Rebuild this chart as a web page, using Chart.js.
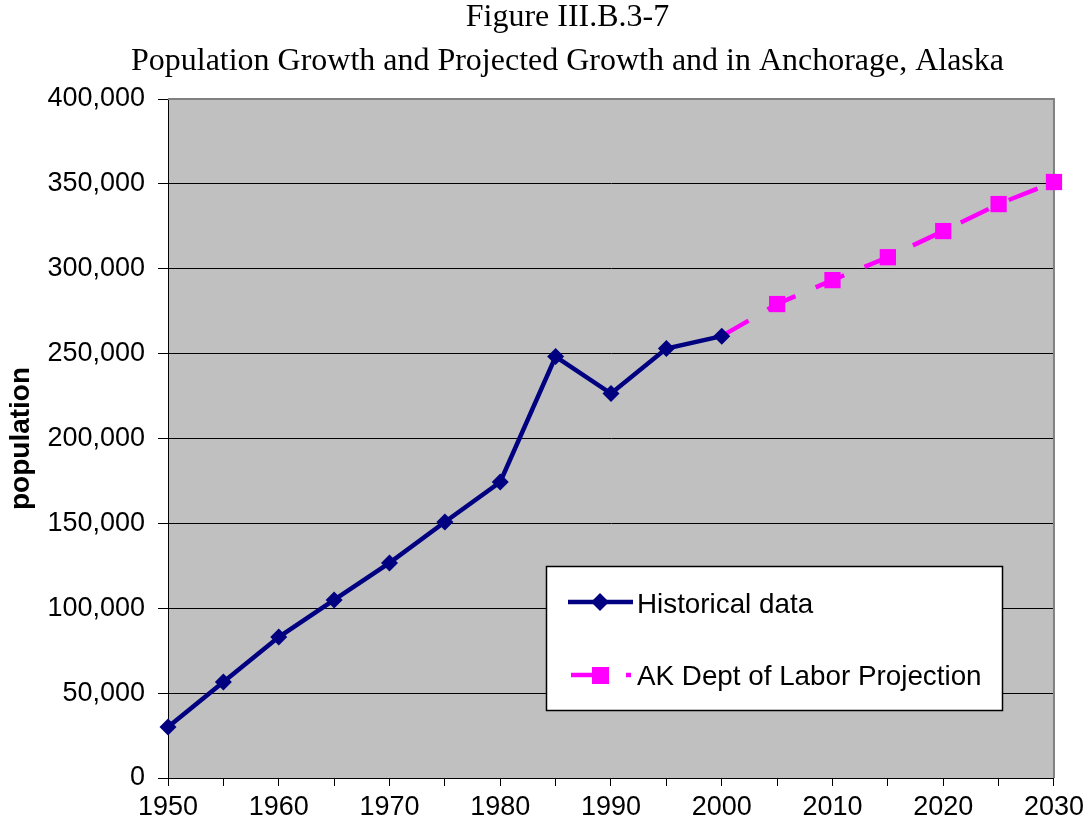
<!DOCTYPE html>
<html><head><meta charset="utf-8">
<script src="https://cdn.jsdelivr.net/npm/chart.js@4/dist/chart.umd.min.js"></script>
<style>html,body{margin:0;padding:0;background:#fff;}canvas{display:block;}</style>
</head><body>
<canvas id="c" width="1089" height="832"></canvas>
<script>
const years = ['1950','1955','1960','1965','1970','1975','1980','1985','1990','1995','2000','2005','2010','2015','2020','2025','2030'];
const xTickLabels = ['1950','','1960','','1970','','1980','','1990','','2000','','2010','','2020','','2030'];
const historical = [30000, 56600, 83000, 104900, 126700, 150800, 174400, 248300, 226500, 253000, 260300, null, null, null, null, null, null];
const projection = [null, null, null, null, null, null, null, null, null, null, 260300, 279200, 293300, 306800, 322200, 338100, 351100];
const yTicks = [0, 50000, 100000, 150000, 200000, 250000, 300000, 350000, 400000];
const titleLines = ['Figure III.B.3-7', 'Population Growth and Projected Growth and in Anchorage, Alaska'];
const yTitle = 'population';
const seriesNames = ['Historical data', 'AK Dept of Labor Projection'];

const NAVY = '#000080', MAGENTA = '#FF00FF', PLOTBG = '#C0C0C0';
const SANS = '"Liberation Sans", Arial, sans-serif';
const SERIF = '"Liberation Serif", "Times New Roman", serif';

const bgPlugin = {
  id: 'bg',
  beforeDraw(chart) {
    const {ctx, chartArea: a} = chart;
    ctx.save();
    ctx.fillStyle = '#fff';
    ctx.fillRect(0, 0, chart.width, chart.height);
    ctx.fillStyle = PLOTBG;
    ctx.fillRect(a.left, a.top, a.right - a.left, a.bottom - a.top);
    ctx.restore();
  },
  beforeDatasetsDraw(chart) {
    const {ctx, chartArea: a} = chart;
    ctx.save();
    ctx.strokeStyle = '#808080';
    ctx.lineWidth = 2;
    ctx.beginPath();
    ctx.moveTo(a.left, a.top);
    ctx.lineTo(a.right, a.top);
    ctx.lineTo(a.right, a.bottom);
    ctx.stroke();
    ctx.restore();
  }
};

const decorPlugin = {
  id: 'decor',
  afterDraw(chart) {
    const ctx = chart.ctx;
    ctx.save();
    // Title
    ctx.fillStyle = '#000';
    ctx.font = '32px ' + SERIF;
    ctx.textAlign = 'center';
    ctx.textBaseline = 'alphabetic';
    const w2 = ctx.measureText(titleLines[1]).width;
    const sx = 873 / w2;
    const baselines = [26, 70];
    titleLines.forEach((t, i) => {
      ctx.save();
      ctx.translate(567.5, baselines[i]);
      ctx.scale(sx, 1);
      ctx.fillText(t, 0, 0);
      ctx.restore();
    });
    // Legend box
    ctx.fillStyle = '#fff';
    ctx.fillRect(546, 566, 456, 144);
    ctx.strokeStyle = '#000';
    ctx.lineWidth = 1.5;
    ctx.strokeRect(546.5, 566.5, 456, 144);
    // Row 1
    ctx.strokeStyle = NAVY;
    ctx.lineWidth = 4.5;
    ctx.beginPath(); ctx.moveTo(568, 602); ctx.lineTo(633, 602); ctx.stroke();
    ctx.fillStyle = NAVY;
    ctx.beginPath();
    ctx.moveTo(600, 593); ctx.lineTo(609, 602); ctx.lineTo(600, 611); ctx.lineTo(591, 602); ctx.closePath();
    ctx.fill();
    // Row 2
    ctx.strokeStyle = MAGENTA;
    ctx.beginPath(); ctx.moveTo(571, 675); ctx.lineTo(593, 675); ctx.stroke();
    ctx.beginPath(); ctx.moveTo(626, 675); ctx.lineTo(631, 675); ctx.stroke();
    ctx.fillStyle = MAGENTA;
    ctx.fillRect(592, 667, 17, 17);
    // Legend text
    ctx.fillStyle = '#000';
    ctx.font = '27.8px ' + SANS;
    ctx.textAlign = 'left';
    ctx.fillText(seriesNames[0], 637, 613);
    ctx.fillText(seriesNames[1], 637, 685);
    ctx.restore();
  }
};

new Chart(document.getElementById('c'), {
  type: 'line',
  data: {
    labels: years,
    datasets: [
      {
        label: seriesNames[0],
        data: historical,
        borderColor: NAVY,
        backgroundColor: NAVY,
        borderWidth: 4.5,
        pointStyle: 'rectRot',
        pointRadius: 8.5,
        pointBorderWidth: 0,
        tension: 0,
        spanGaps: false,
        clip: false,
        order: 1
      },
      {
        label: seriesNames[1],
        data: projection,
        borderColor: MAGENTA,
        backgroundColor: MAGENTA,
        borderWidth: 4.5,
        borderDash: [31, 22],
        pointStyle: 'rect',
        pointRadius: (c) => (c.dataIndex === 10 ? 0 : 11.5),
        pointBorderWidth: 0,
        tension: 0,
        clip: false,
        order: 2
      }
    ]
  },
  options: {
    responsive: false,
    animation: false,
    events: [],
    devicePixelRatio: 1,
    layout: { padding: { top: 99, right: 21, left: 0, bottom: 0 } },
    plugins: { legend: { display: false }, title: { display: false }, tooltip: { enabled: false } },
    scales: {
      x: {
        type: 'category',
        offset: false,
        grid: { drawOnChartArea: false, drawTicks: true, tickLength: 8, color: '#000', lineWidth: 1 },
        border: { color: '#000', width: 1 },
        ticks: {
          autoSkip: false, maxRotation: 0, minRotation: 0,
          color: '#000', font: { family: SANS, size: 27 }, padding: 5,
          callback: (v, i) => xTickLabels[i]
        },
        afterFit: (s) => { s.height = 54; }
      },
      y: {
        min: 0, max: 400000,
        afterBuildTicks: (s) => { s.ticks = yTicks.map(v => ({ value: v })); },
        grid: { color: '#000', lineWidth: 1, tickLength: 10 },
        border: { color: '#000', width: 1 },
        ticks: {
          color: '#000', font: { family: SANS, size: 27 }, padding: 13,
          callback: (v) => v.toLocaleString('en-US')
        },
        title: {
          display: true, text: yTitle, color: '#000',
          font: { family: SANS, size: 28, weight: 'bold', lineHeight: 1.2 },
          padding: { top: 4, bottom: 0 }
        },
        afterFit: (s) => { s.width = 168; }
      }
    }
  },
  plugins: [bgPlugin, decorPlugin]
});
</script>
</body></html>
